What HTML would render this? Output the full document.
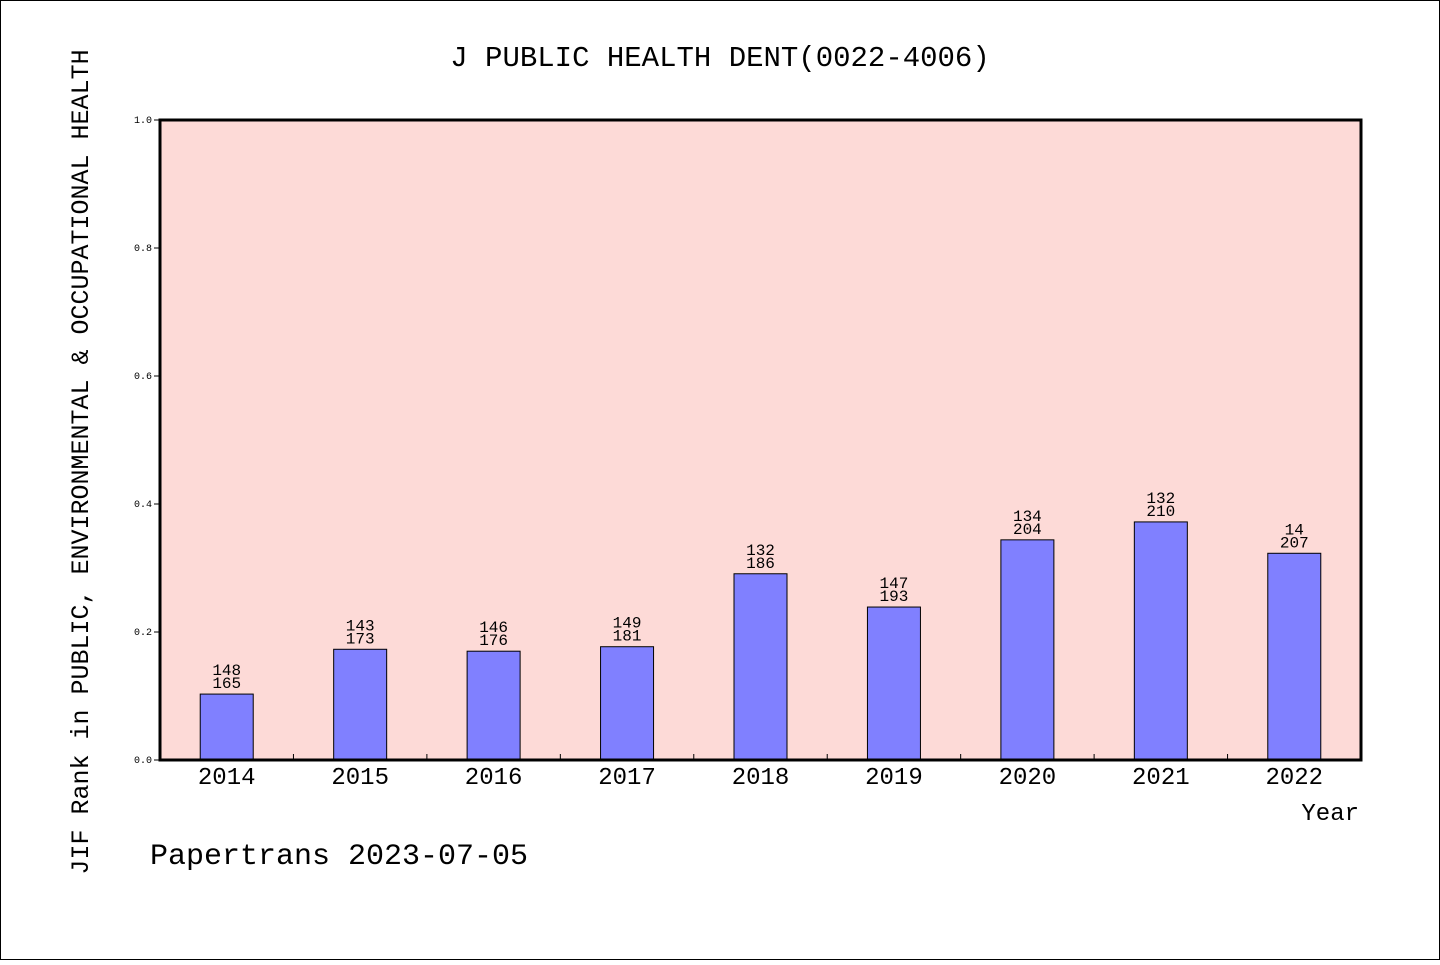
<!DOCTYPE html>
<html><head><meta charset="utf-8"><style>
html,body{margin:0;padding:0;background:#fff;}
svg text{font-family:"Liberation Mono","WenQuanYi Zen Hei",monospace;fill:#000;}
</style></head><body>
<svg id="chart" width="1440" height="960" xmlns="http://www.w3.org/2000/svg">
<rect x="0.5" y="0.5" width="1439" height="959" fill="#fff" stroke="#000"/>
<text x="720" y="66" text-anchor="middle" font-size="29">J PUBLIC HEALTH DENT(0022-4006)</text>
<rect x="160" y="120" width="1201" height="640" fill="#fddad7"/>
<g id="yaxis"></g>
<g id="bars"></g>
<rect x="160" y="120" width="1201" height="640" fill="none" stroke="#000" stroke-width="3"/>
<text x="1359" y="820" text-anchor="end" font-size="24">Year</text>
<text transform="translate(88,462) rotate(-90)" text-anchor="middle" font-size="25">JIF Rank in PUBLIC, ENVIRONMENTAL &amp; OCCUPATIONAL HEALTH</text>
<text x="150" y="864" font-size="30">Papertrans 2023-07-05</text>
</svg>
<script>
const years=["2014","2015","2016","2017","2018","2019","2020","2021","2022"];
const values=[0.103,0.173,0.170,0.177,0.291,0.239,0.344,0.372,0.323];
const ranks=["148","143","146","149","132","147","134","132","14"];
const totals=["165","173","176","181","186","193","204","210","207"];
const yTicks=[0,0.2,0.4,0.6,0.8,1.0];
const NS="http://www.w3.org/2000/svg";
const X0=160,W=1201,Y0=760,H=640;
const band=W/years.length;
const yScale=v=>Y0-v*H;
const xCenter=i=>X0+band*(i+0.5);
function mk(t,a,p){const e=document.createElementNS(NS,t);for(const k in a)e.setAttribute(k,a[k]);p.appendChild(e);return e;}
const ya=document.getElementById('yaxis');
yTicks.forEach(v=>{
 const y=yScale(v);
 const l=mk('line',{x1:X0-6,x2:X0,y1:y,y2:y,stroke:'#000'},ya);
 
 
 const t=mk('text',{x:X0-8,y:y+3,'text-anchor':'end','font-size':10},ya);
 t.textContent=v.toFixed(1);
 
 
});
const bg=document.getElementById('bars');
years.forEach((yr,i)=>{
 const cx=xCenter(i),top=yScale(values[i]);
 const r=mk('rect',{x:cx-26.5,y:top,width:53,height:Y0-top,fill:'#8080ff',stroke:'#000','stroke-width':1},bg);
 
 
 const a=mk('text',{x:cx,y:top-19,'text-anchor':'middle','font-size':16},bg);
 a.textContent=ranks[i];
 
 
 const b=mk('text',{x:cx,y:top-6,'text-anchor':'middle','font-size':16},bg);
 b.textContent=totals[i];
 
 
 const t=mk('text',{x:cx,y:784,'text-anchor':'middle','font-size':24},bg);
 t.textContent=yr;
 
 
 if(i>0){const tk=mk('line',{x1:X0+band*i,x2:X0+band*i,y1:Y0,y2:Y0-6,stroke:'#000'},bg);
 
 }
});
</script>
</body></html>
